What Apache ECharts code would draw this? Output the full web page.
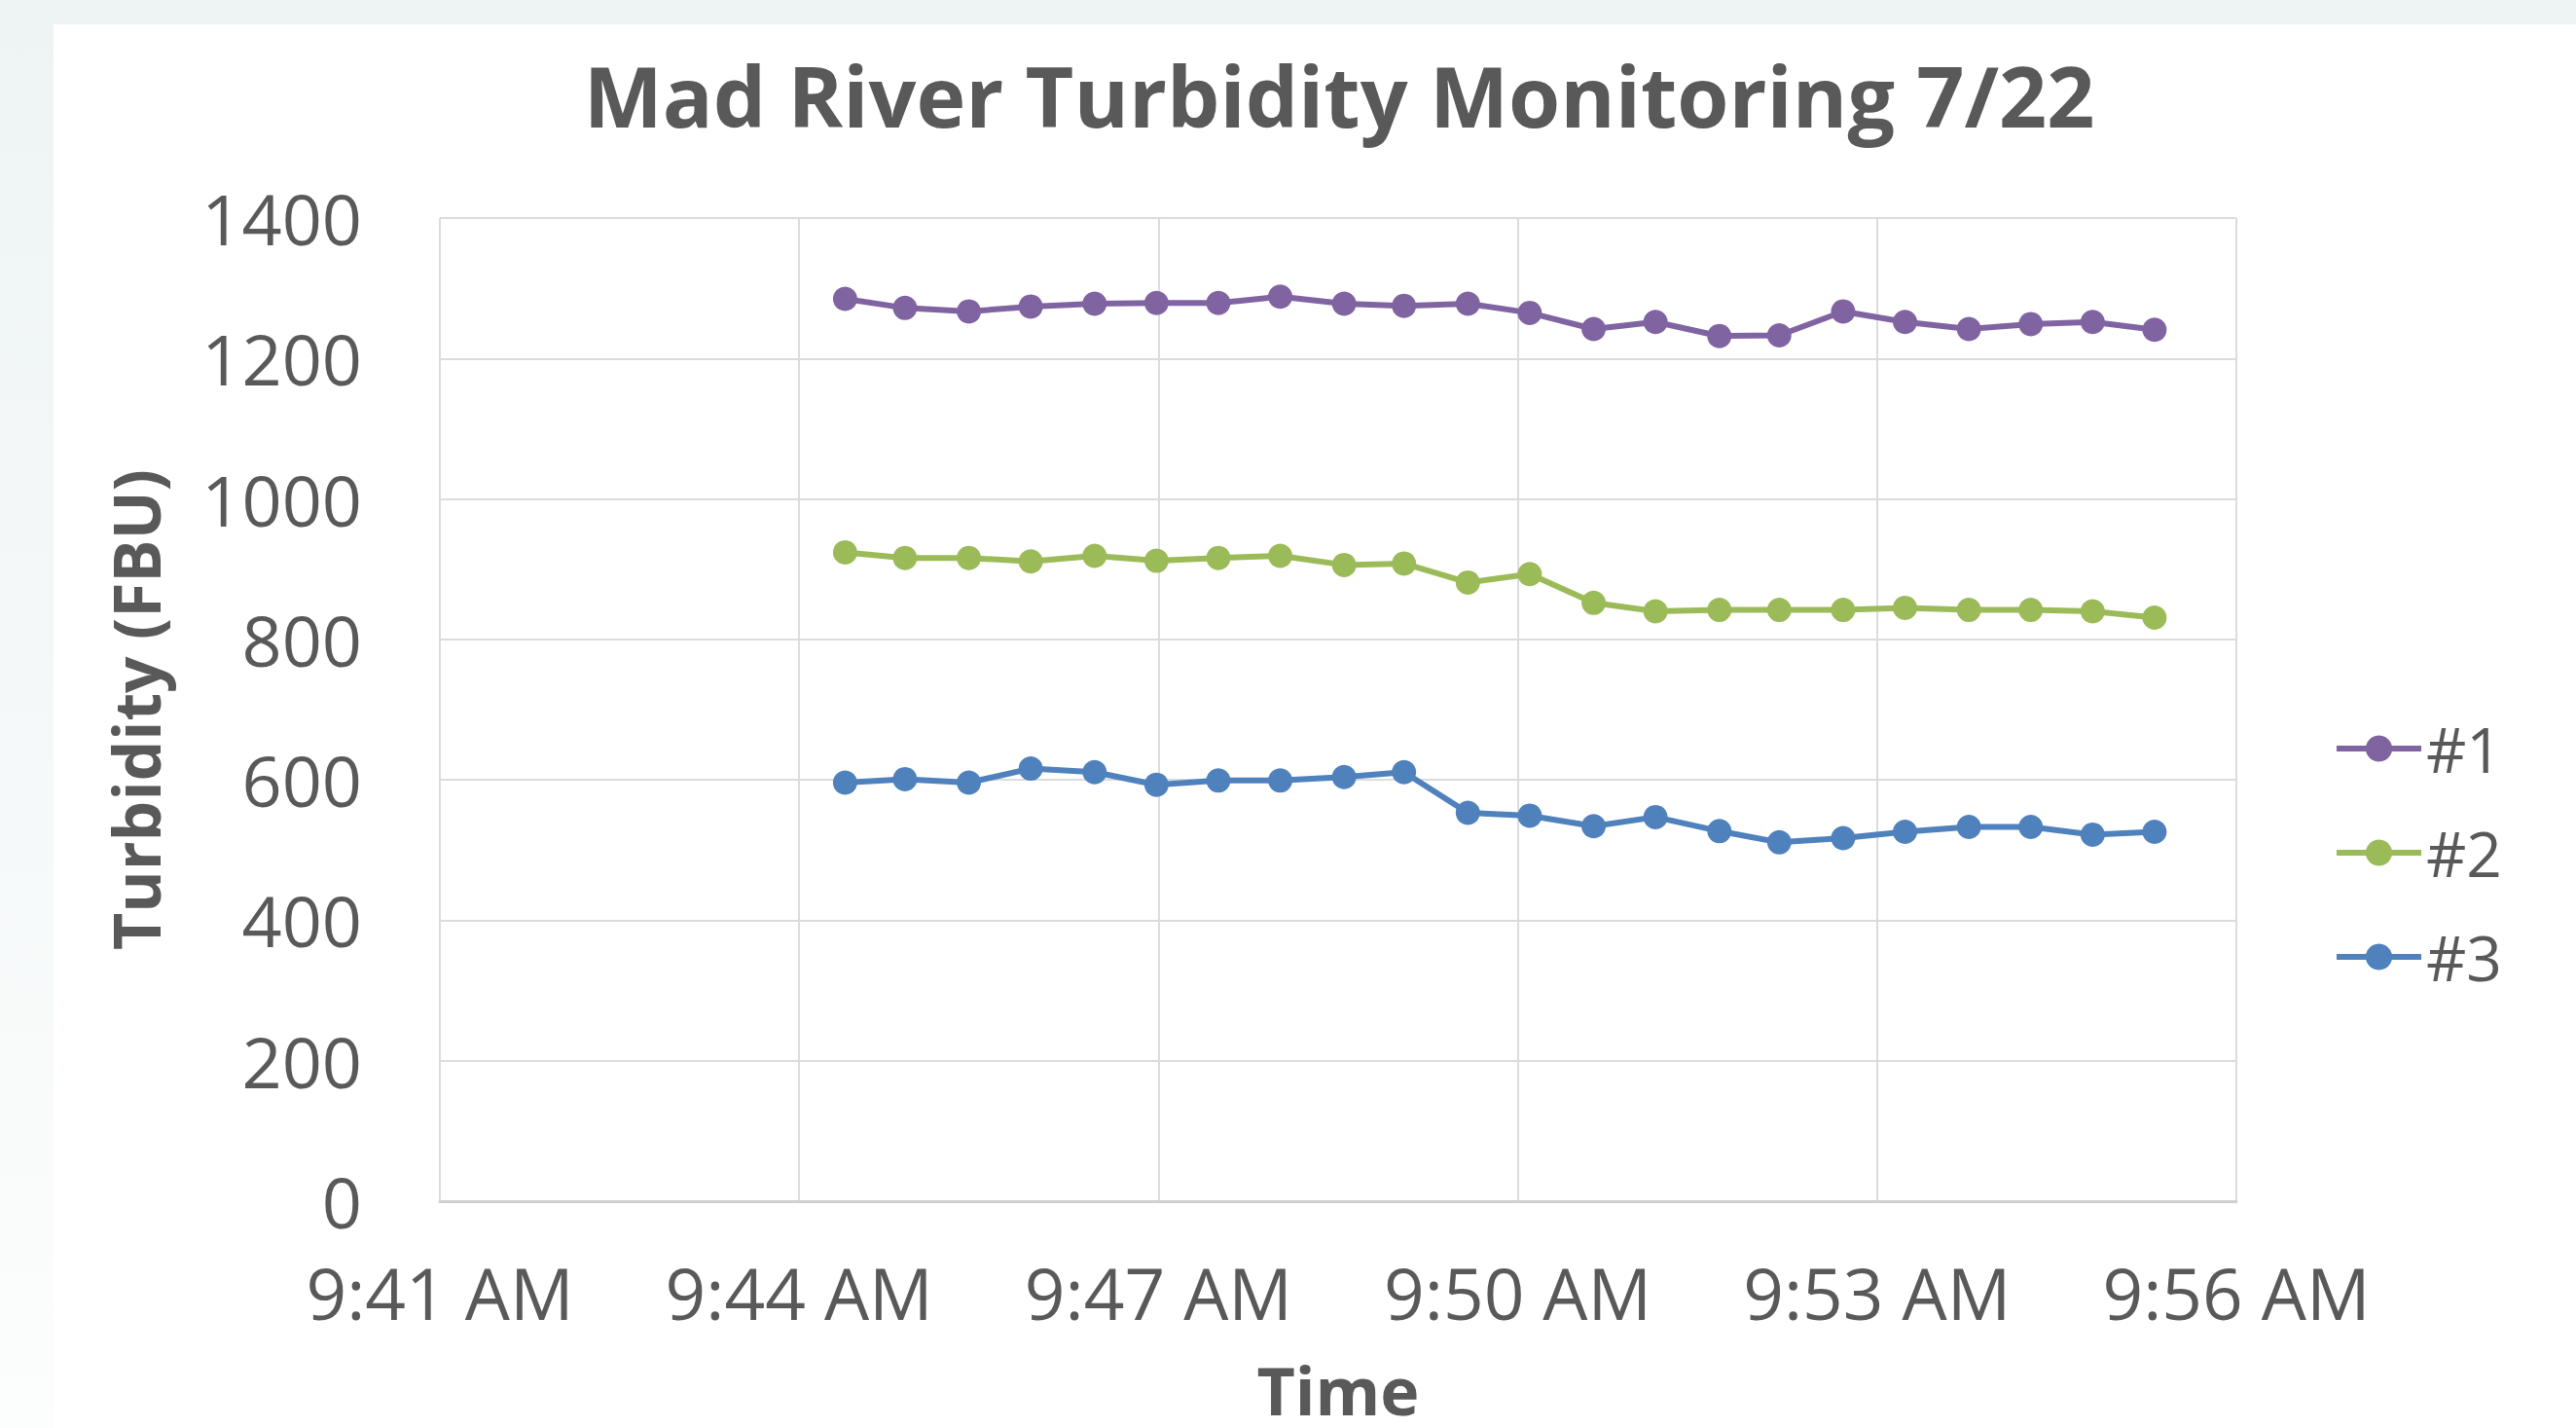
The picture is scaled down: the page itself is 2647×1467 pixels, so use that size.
<!DOCTYPE html>
<html>
<head>
<meta charset="utf-8">
<script src="https://cdn.jsdelivr.net/npm/echarts@6/dist/echarts.min.js"></script>
<style>
  html, body { margin: 0; padding: 0; width: 2647px; height: 1467px; overflow: hidden;
    background: linear-gradient(#eef4f4, #fcfdfd); }
  #chart { position: absolute; left: 55px; top: 25px; width: 2592px; height: 1442px; background: #ffffff; }
</style>
</head>
<body>
<div id="chart"></div>
<script>
// Sample times (clock time, AM)
const times = ["9:44:23","9:44:53","9:45:25","9:45:56","9:46:28","9:46:59","9:47:30","9:48:01",
  "9:48:33","9:49:03","9:49:35","9:50:06","9:50:38","9:51:09","9:51:41","9:52:11",
  "9:52:43","9:53:14","9:53:46","9:54:17","9:54:48","9:55:19"];
// Turbidity (FBU) per site
const site1 = [1285,1272,1267,1274,1278,1279,1279,1288,1278,1275,1278,1265,1242,1252,1232,1233,1267,1252,1242,1249,1252,1241];
const site2 = [924,916,916,911,919,912,916,919,906,908,881,893,852,840,842,842,842,845,842,842,840,831];
const site3 = [596,601,596,616,611,593,599,599,604,611,553,549,534,547,527,511,517,526,533,533,522,526];
const seriesNames = ["#1", "#2", "#3"];
const seriesColors = ["#8064A2", "#9BBB59", "#4F81BD"];
// X axis: minutes after the 9:41 AM origin; ticks every 3 minutes
const axisStart = "9:41";
const axisSpanMinutes = 15;
const axisStepMinutes = 3;

function clockToMinutes(t) {
  const p = t.split(":").map(Number);
  return p[0] * 60 + p[1] + (p[2] || 0) / 60;
}
const origin = clockToMinutes(axisStart);
function fmtTick(v) {
  const total = Math.round(origin + v);
  let h = Math.floor(total / 60), m = total % 60;
  const ampm = h >= 12 ? "PM" : "AM";
  const hh = h % 12 === 0 ? 12 : h % 12;
  return hh + ":" + (m < 10 ? "0" + m : m) + " " + ampm;
}
const xs = times.map(t => clockToMinutes(t) - origin);
const allValues = [site1, site2, site3];

const FONT = "Open Sans";
const TXT = "#595959";
const chart = echarts.init(document.getElementById("chart"), null, { renderer: "svg" });
chart.setOption({
  animation: false,
  textStyle: { fontFamily: FONT, color: TXT },
  title: {
    text: "Mad River Turbidity Monitoring 7/22",
    left: 1321, top: 72, padding: 0,
    textAlign: "center", textVerticalAlign: "middle",
    textStyle: { fontFamily: FONT, fontWeight: "bold", fontSize: 86, color: TXT }
  },
  legend: {
    orient: "vertical",
    left: 2338, top: 707,
    itemWidth: 87, itemHeight: 34, itemGap: 43,
    lineStyle: { width: 6 },
    textStyle: { fontFamily: FONT, fontSize: 64, color: TXT },
    data: seriesNames
  },
  grid: { left: 397, right: 349, top: 199, bottom: 233, containLabel: false, outerBoundsMode: "none" },
  xAxis: {
    type: "value",
    min: 0, max: axisSpanMinutes, interval: axisStepMinutes,
    name: "Time", nameLocation: "middle", nameGap: 168,
    nameTextStyle: { fontFamily: FONT, fontWeight: "bold", fontSize: 68, lineHeight: 50, color: TXT },
    axisLine: { show: true, lineStyle: { color: "#d0d0d0", width: 3 } },
    axisTick: { show: false },
    axisLabel: { fontFamily: FONT, fontSize: 73, color: TXT, margin: 57, formatter: fmtTick },
    splitLine: { show: true, lineStyle: { color: "#dcdcdc", width: 2 } }
  },
  yAxis: {
    type: "value",
    min: 0, max: 1400, interval: 200,
    name: "Turbidity (FBU)", nameLocation: "middle", nameGap: 280, nameRotate: 90,
    nameTextStyle: { fontFamily: FONT, fontWeight: "bold", fontSize: 66, color: TXT },
    axisLine: { show: false },
    axisTick: { show: false },
    axisLabel: { fontFamily: FONT, fontSize: 72, color: TXT, margin: 80, formatter: v => String(v) },
    splitLine: { show: true, lineStyle: { color: "#dcdcdc", width: 2 } }
  },
  series: seriesNames.map((name, i) => ({
    name: name,
    type: "line",
    data: xs.map((x, j) => [x, allValues[i][j]]),
    symbol: "circle",
    symbolSize: 25,
    color: seriesColors[i],
    itemStyle: { color: seriesColors[i] },
    lineStyle: { color: seriesColors[i], width: 6 },
    z: 10 - i
  }))
});
</script>
</body>
</html>
